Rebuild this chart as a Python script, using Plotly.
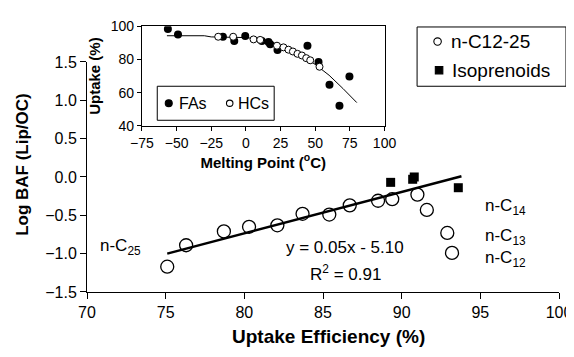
import plotly.graph_objects as go

# ---- main chart data ----
nalk_eff = [75.1, 76.3, 78.7, 80.3, 82.1, 83.7, 85.4, 86.7, 88.5, 89.4, 91.0, 91.6, 92.9, 93.2]
nalk_baf = [-1.17, -0.89, -0.71, -0.65, -0.63, -0.48, -0.49, -0.37, -0.31, -0.29, -0.23, -0.43, -0.73, -0.99]
iso_eff = [89.3, 90.7, 90.8, 93.6]
iso_baf = [-0.07, -0.03, 0.00, -0.14]
trend_eff = [75.1, 93.8]
trend_baf = [-1.00, 0.01]

x_ticks = [70, 75, 80, 85, 90, 95, 100]
y_ticks = [-1.5, -1.0, -0.5, 0.0, 0.5, 1.0, 1.5]

# ---- inset data ----
fa_mp = [-56.3, -49.0, -16.6, -8.4, -0.5, 11.5, 16.3, 17.5, 22.8, 44.4, 52.4, 60.3, 67.5, 74.7]
fa_up = [98.4, 95.1, 93.7, 91.2, 94.1, 91.2, 90.6, 89.2, 85.7, 88.3, 78.5, 64.8, 52.1, 69.7]
hc_mp = [-20.0, -9.2, 5.5, 10.3, 22.4, 27.1, 30.7, 33.9, 37.2, 40.4, 43.5, 46.4, 53.1]
hc_up = [93.7, 93.7, 92.1, 91.8, 88.3, 87.3, 85.9, 84.8, 83.4, 82.4, 80.8, 79.5, 75.6]
curve_mp = [-57, -30, -25, -10, 0, 10, 20, 30, 40, 50, 60, 70, 80]
curve_up = [94.3, 94.3, 93.6, 93.5, 93.2, 92.2, 90.0, 86.8, 82.5, 77.0, 70.5, 62.5, 54.0]

legend_main = ["n-C12-25", "Isoprenoids"]
legend_inset = ["FAs", "HCs"]

FONT = "Liberation Sans, Arial, Helvetica, sans-serif"

# page is shown with an 8px body offset: layout helpers convert target pixel -> paper
OFF = 8
L, T, W, H = 78.7, 10.0, 472.3, 273.7


def px(xp):
    return (xp - OFF - L) / W


def py(yp):
    return (T + H - (yp - OFF)) / H


fig = go.Figure()

# main traces
fig.add_trace(go.Scatter(x=nalk_eff, y=nalk_baf, mode="markers", name=legend_main[0],
                         marker=dict(symbol="circle-open", size=13, color="black", line=dict(width=1.3))))
fig.add_trace(go.Scatter(x=iso_eff, y=iso_baf, mode="markers", name=legend_main[1],
                         marker=dict(symbol="square", size=9, color="black")))
fig.add_trace(go.Scatter(x=trend_eff, y=trend_baf, mode="lines", name="fit",
                         line=dict(color="black", width=2.5)))

# inset traces
fig.add_trace(go.Scatter(x=curve_mp, y=curve_up, mode="lines", name="model",
                         line=dict(color="black", width=1), xaxis="x2", yaxis="y2"))
fig.add_trace(go.Scatter(x=fa_mp, y=fa_up, mode="markers", name=legend_inset[0],
                         marker=dict(symbol="circle", size=8, color="black"),
                         xaxis="x2", yaxis="y2"))
fig.add_trace(go.Scatter(x=hc_mp, y=hc_up, mode="markers", name=legend_inset[1],
                         marker=dict(symbol="circle", size=7, color="white", line=dict(color="black", width=1)),
                         xaxis="x2", yaxis="y2"))

axis_common = dict(showline=True, linecolor="black", linewidth=1, ticks="outside",
                   tickcolor="black", showgrid=False, zeroline=False)

shapes = []
annotations = []


def box(x0, y0, x1, y1):
    shapes.append(dict(type="rect", xref="paper", yref="paper", x0=px(x0), x1=px(x1),
                       y0=py(y1), y1=py(y0), line=dict(color="black", width=1), fillcolor="white",
                       layer="above"))


def glyph(kind, cx, cy, d, filled):
    shapes.append(dict(type=kind, xref="paper", yref="paper", x0=px(cx - d / 2), x1=px(cx + d / 2),
                       y0=py(cy + d / 2), y1=py(cy - d / 2),
                       line=dict(color="black", width=1.1),
                       fillcolor="black" if filled else "white", layer="above"))


def label(text, x, y, size, anchor="left"):
    annotations.append(dict(text=text, xref="paper", yref="paper", x=px(x), y=py(y), xanchor=anchor,
                            yanchor="middle", showarrow=False, font=dict(size=size)))


# main legend box
box(417, 19, 566, 80)
glyph("circle", 437.5, 34, 7.5, False)
label(legend_main[0], 449, 34, 19)
glyph("rect", 439, 63.5, 7.5, True)
label(legend_main[1], 450, 63.5, 19)

# inset legend box
box(157, 80, 274, 115)
glyph("circle", 168.5, 97.5, 7, True)
label(legend_inset[0], 177, 97.5, 16)
glyph("circle", 229.5, 97.5, 6.5, False)
label(legend_inset[1], 236, 97.5, 16)

# axis titles of main chart
annotations.append(dict(text="<b>Uptake Efficiency (%)</b>", xref="paper", yref="paper", x=px(328), y=py(337),
                        xanchor="center", yanchor="middle", showarrow=False, font=dict(size=19)))
annotations.append(dict(text="<b>Log BAF (Lip/OC)</b>", xref="paper", yref="paper", x=px(21.5), y=py(160),
                        xanchor="center", yanchor="middle", textangle=-90, showarrow=False, font=dict(size=17)))

# text labels in data space
for txt, xv, yv, anc in [
    ("n-C<sub>25</sub>", 70.7, -0.917, "left"),
    ("y = 0.05x - 5.10", 86.42, -0.917, "center"),
    ("R<sup>2</sup> = 0.91", 86.42, -1.257, "center"),
    ("n-C<sub>14</sub>", 95.19, -0.395, "left"),
    ("n-C<sub>13</sub>", 95.19, -0.777, "left"),
    ("n-C<sub>12</sub>", 95.19, -1.074, "left"),
]:
    annotations.append(dict(text=txt, xref="x", yref="y", x=xv, y=yv, xanchor=anc, yanchor="middle",
                            showarrow=False, font=dict(size=17)))

fig.update_layout(
    width=574, height=357,
    margin=dict(l=L, r=574 - L - W, t=T, b=357 - T - H),
    paper_bgcolor="white", plot_bgcolor="white",
    showlegend=False,
    font=dict(family=FONT, color="black", size=16),
    xaxis=dict(range=[70, 100], tickvals=x_ticks, ticklen=6, domain=[0, 1], anchor="y",
               tickfont=dict(size=16), **axis_common),
    yaxis=dict(range=[-1.5, 1.5], tickvals=y_ticks, tickformat=".1f", ticklen=6,
               domain=[0, py(55)], anchor="x", tickfont=dict(size=16), **axis_common),
    xaxis2=dict(range=[-75, 100], dtick=25, tick0=-75, ticklen=4, domain=[px(141.7), px(384.4)], anchor="y2",
                mirror=True, tickfont=dict(size=14),
                title=dict(text="<b>Melting Point (<sup>o</sup>C)</b>", font=dict(size=15), standoff=7),
                **axis_common),
    yaxis2=dict(range=[40, 100], dtick=20, ticklen=4, domain=[py(120.7), min(1.0, py(18.3))], anchor="x2",
                mirror=True, tickfont=dict(size=14),
                title=dict(text="<b>Uptake (%)</b>", font=dict(size=15), standoff=6),
                **axis_common),
    shapes=shapes,
    annotations=annotations,
)

fig.write_html("out.html")
